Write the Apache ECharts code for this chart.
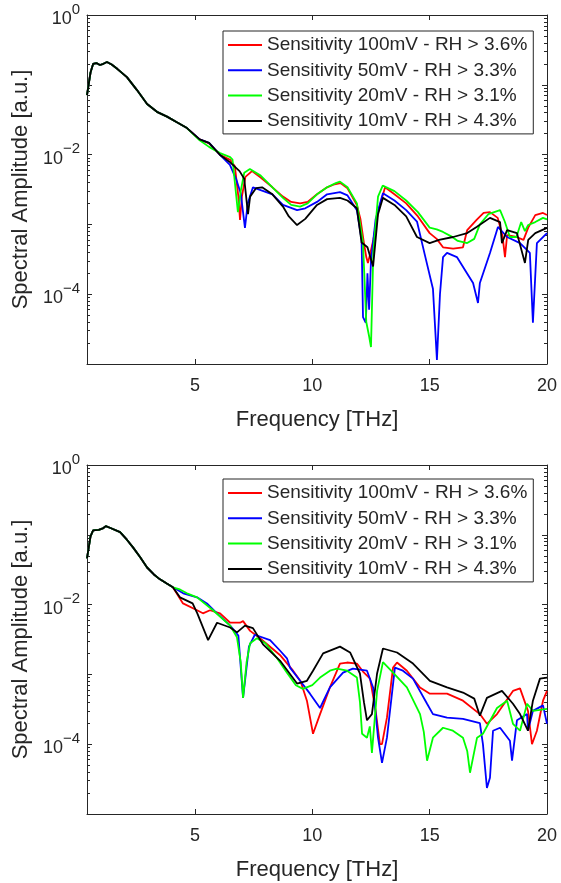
<!DOCTYPE html>
<html>
<head>
<meta charset="utf-8">
<script src="https://cdn.jsdelivr.net/npm/echarts@6/dist/echarts.min.js"></script>
<style>
html,body{margin:0;padding:0;background:#fff;}
#chart{width:561px;height:883px;}
</style>
</head>
<body>
<div id="chart"></div>
<script>
// ---------- DATA ----------
const seriesNames = ['Sensitivity 100mV - RH > 3.6%', 'Sensitivity 50mV - RH > 3.3%', 'Sensitivity 20mV - RH > 3.1%', 'Sensitivity 10mV - RH > 4.3%'];
const xTickValues = [5, 10, 15, 20];
const yLabelValues = [1e-4, 1e-2, 1];

// top panel: shared low-frequency part [THz, a.u.]
const headTop = [[0.4,0.071],[0.55,0.15],[0.66,0.199],[0.8,0.205],[0.95,0.192],[1.1,0.2],[1.25,0.212],[1.45,0.195],[1.7,0.168],[2.1,0.129],[2.53,0.084],[2.96,0.053],[3.38,0.041],[3.81,0.035],[4.23,0.029],[4.66,0.024]];
const redTop = [[5.2,0.0165],[5.6,0.0145],[6.07,0.0099],[6.5,0.0084],[6.7,0.0068],[6.85,0.0025],[6.92,0.00116],[7.0,0.0025],[7.15,0.0048],[7.43,0.0058],[7.8,0.0047],[8.3,0.0034],[8.75,0.0025],[9.1,0.0021],[9.48,0.002],[9.8,0.0021],[10.2,0.0027],[10.63,0.0034],[10.9,0.0037],[11.2,0.0039],[11.5,0.0033],[11.9,0.0019],[12.05,0.0012],[12.2,0.00054],[12.3,0.00034],[12.37,0.00028],[12.45,0.00036],[12.6,0.0006],[12.8,0.0015],[13.1,0.0034],[13.5,0.0027],[14.0,0.002],[14.5,0.0013],[15.0,0.00075],[15.3,0.00062],[15.57,0.00047],[16.0,0.00045],[16.42,0.00047],[16.6,0.00083],[17.0,0.00116],[17.3,0.00146],[17.57,0.0015],[17.9,0.00124],[18.1,0.0007],[18.21,0.00034],[18.3,0.0007],[18.7,0.00066],[19.0,0.0006],[19.2,0.0009],[19.5,0.00136],[19.83,0.00146],[20,0.00136]];
const blueTop = [[5.2,0.0165],[5.6,0.0147],[6.07,0.0099],[6.49,0.0071],[6.75,0.0045],[6.95,0.0028],[7.13,0.00089],[7.25,0.002],[7.47,0.0034],[7.8,0.0031],[8.3,0.0027],[8.75,0.0019],[9.35,0.0016],[9.7,0.0017],[10.2,0.0021],[10.63,0.0027],[11.18,0.0029],[11.5,0.0026],[11.9,0.0016],[12.1,0.0006],[12.16,0.000047],[12.28,0.000039],[12.35,0.0002],[12.42,0.00006],[12.5,0.0003],[12.7,0.0012],[13.01,0.0028],[13.5,0.0022],[14.0,0.0016],[14.46,0.0011],[14.8,0.00036],[15.14,0.00012],[15.31,0.0000114],[15.44,0.0001],[15.57,0.00034],[15.74,0.00039],[16.16,0.00034],[16.59,0.0002],[16.85,0.000145],[17.06,0.000075],[17.14,0.000145],[17.57,0.00039],[17.91,0.00092],[18.3,0.00066],[18.85,0.00054],[19.27,0.00039],[19.4,0.000039],[19.57,0.00054],[20,0.00075]];
const greenTop = [[5.2,0.016],[5.6,0.0129],[6.07,0.0105],[6.5,0.0092],[6.6,0.0085],[6.7,0.004],[6.83,0.0015],[6.95,0.003],[7.1,0.0055],[7.34,0.0062],[7.8,0.005],[8.3,0.0034],[8.75,0.0024],[9.1,0.0019],[9.48,0.0018],[9.8,0.002],[10.2,0.0027],[10.63,0.0034],[11.0,0.0039],[11.18,0.0041],[11.5,0.0034],[11.9,0.002],[12.16,0.00054],[12.3,0.00004],[12.42,0.000025],[12.5,0.0000175],[12.6,0.0004],[12.8,0.0025],[13.0,0.0036],[13.5,0.003],[14.0,0.0022],[14.5,0.0015],[15.0,0.0009],[15.3,0.00085],[15.57,0.00078],[15.9,0.00068],[16.2,0.00058],[16.6,0.00054],[16.9,0.00062],[17.14,0.001],[17.5,0.0014],[18.0,0.0016],[18.2,0.0011],[18.42,0.00066],[18.7,0.00066],[18.9,0.00108],[19.06,0.0008],[19.2,0.00098],[19.5,0.00108],[19.83,0.00124],[20,0.00118]];
const blackTop = [[5.2,0.0165],[5.6,0.0147],[6.07,0.0099],[6.49,0.0078],[6.9,0.0058],[7.1,0.0045],[7.26,0.0014],[7.35,0.0025],[7.6,0.0033],[7.86,0.0034],[8.3,0.0027],[8.75,0.0018],[9.0,0.0013],[9.35,0.00098],[9.7,0.0012],[10.2,0.0019],[10.63,0.0023],[11.18,0.0024],[11.5,0.0022],[11.9,0.0017],[12.1,0.00055],[12.35,0.00047],[12.59,0.00025],[12.8,0.0014],[13.01,0.0024],[13.5,0.0019],[14.0,0.0013],[14.46,0.00066],[15.0,0.00054],[15.4,0.0006],[16.0,0.00066],[16.6,0.00075],[17.0,0.00092],[17.57,0.00124],[18.0,0.00108],[18.08,0.00054],[18.3,0.00083],[18.72,0.00075],[19.06,0.00028],[19.2,0.0006],[19.5,0.00075],[20,0.00089]];

// bottom panel
const headBottom = [[0.4,0.046],[0.55,0.095],[0.66,0.116],[0.9,0.118],[1.1,0.125],[1.2,0.133],[1.4,0.125],[1.81,0.109],[2.1,0.085],[2.36,0.066],[2.66,0.048],[2.96,0.034],[3.25,0.027],[3.51,0.023],[3.8,0.02],[4.06,0.0177]];
const redBottom = [[4.49,0.0104],[5.09,0.0083],[5.34,0.0075],[5.64,0.0083],[6.07,0.0075],[6.5,0.0055],[6.92,0.0055],[7.05,0.0058],[7.35,0.0042],[7.77,0.0033],[8.62,0.0019],[9.18,0.00113],[9.5,0.0008],[9.77,0.00042],[10.03,0.000141],[10.33,0.00027],[10.75,0.00065],[11.18,0.00143],[11.48,0.00148],[11.9,0.00143],[12.16,0.0011],[12.46,0.00087],[12.7,0.0003],[12.88,0.0001],[12.97,0.0001],[13.18,0.00024],[13.44,0.00125],[13.61,0.00148],[14.03,0.00113],[14.59,0.00065],[15.01,0.00053],[15.74,0.00053],[16.42,0.00042],[17.14,0.00027],[17.44,0.000196],[17.87,0.00027],[18.55,0.00058],[18.85,0.00063],[19.19,0.0003],[19.36,0.0001],[19.57,0.000156],[19.83,0.00042],[20,0.00058]];
const blueBottom = [[4.5,0.0145],[5.09,0.0127],[5.51,0.0104],[5.94,0.0075],[6.5,0.005],[6.85,0.0036],[7.05,0.00046],[7.3,0.0025],[7.55,0.0037],[8.2,0.0031],[8.62,0.0022],[8.92,0.0017],[9.05,0.00125],[9.48,0.00081],[9.9,0.00053],[10.33,0.00033],[10.75,0.00065],[11.31,0.00106],[11.73,0.00121],[12.33,0.00113],[12.59,0.00065],[12.8,0.000124],[12.97,0.000054],[13.18,0.000124],[13.52,0.00125],[13.86,0.00113],[14.29,0.00087],[14.89,0.00038],[15.14,0.00027],[15.74,0.00024],[16.42,0.00023],[17.14,0.0002],[17.27,0.0001],[17.44,0.0000236],[17.57,0.000033],[17.7,0.000156],[18.0,0.000172],[18.42,0.000112],[18.51,0.000058],[18.72,0.00022],[19.15,0.00027],[19.19,0.000156],[19.4,0.0003],[19.83,0.00036],[20,0.000196]];
const greenBottom = [[4.36,0.0165],[4.66,0.0145],[5.09,0.0127],[5.77,0.0083],[6.5,0.005],[6.79,0.0034],[6.95,0.0015],[7.05,0.00046],[7.2,0.0015],[7.35,0.0028],[7.64,0.0033],[8.0,0.0028],[8.5,0.0017],[8.92,0.00106],[9.3,0.0007],[9.6,0.00062],[10.0,0.0007],[10.33,0.0009],[10.75,0.00113],[11.05,0.00121],[11.48,0.00113],[11.9,0.0009],[12.03,0.0004],[12.12,0.000141],[12.33,0.000124],[12.45,0.00018],[12.54,0.000075],[12.76,0.00058],[13.01,0.0015],[13.44,0.00106],[14.03,0.00065],[14.59,0.00027],[14.75,0.00015],[14.89,0.000058],[15.14,0.000124],[15.57,0.000172],[15.99,0.000156],[16.42,0.000124],[16.6,0.00008],[16.72,0.000039],[17.02,0.000124],[17.27,0.000141],[17.87,0.00033],[18.3,0.00042],[18.55,0.000196],[18.85,0.000156],[19.15,0.00038],[19.4,0.0003],[20,0.00032]];
const blackBottom = [[4.36,0.0127],[4.9,0.0104],[5.1,0.0075],[5.56,0.0031],[5.94,0.0055],[6.5,0.0047],[6.79,0.004],[7.13,0.005],[7.47,0.0046],[7.9,0.0027],[8.62,0.00158],[9.35,0.00074],[9.77,0.00081],[10.03,0.00113],[10.46,0.002],[11.18,0.0025],[11.61,0.00206],[12.03,0.00103],[12.2,0.0004],[12.33,0.00022],[12.54,0.00027],[12.76,0.00103],[13.01,0.00235],[13.61,0.00206],[14.29,0.00143],[15.01,0.00081],[15.74,0.00065],[16.42,0.00055],[16.9,0.00045],[17.14,0.000256],[17.44,0.00046],[18.08,0.00058],[18.55,0.00038],[18.85,0.00027],[19.19,0.000156],[19.4,0.00042],[19.7,0.00087],[20,0.0009]];

const colors = ['#ff0000', '#0000ff', '#00ff00', '#000000'];

// ---------- BUILD ----------
const AX = '#262626';
const FONT = '"Liberation Sans", Arial, Helvetica, sans-serif';
const decadeTicks = [1e-5, 1e-4, 1e-3, 1e-2, 1e-1, 1];
const minorTicks = [];
for (let k = -5; k < 0; k++) for (let m = 2; m <= 9; m++) minorTicks.push(+(m * Math.pow(10, k)).toPrecision(3));

const grids = [
  {left: 87, top: 15, width: 460, height: 349},
  {left: 87, top: 465, width: 460, height: 349}
];

const xAxes = [], yAxes = [], series = [], legends = [];
const legendTops = [31, 479];
const panels = [
  {head: headTop, sets: [redTop, blueTop, greenTop, blackTop]},
  {head: headBottom, sets: [redBottom, blueBottom, greenBottom, blackBottom]}
];

panels.forEach((p, gi) => {
  const xb = xAxes.length;
  xAxes.push({
    type: 'value', gridIndex: gi, position: 'bottom', min: 0.4, max: 20,
    axisLine: {show: true, lineStyle: {color: AX, width: 1}},
    axisTick: {show: true, inside: true, length: 5, customValues: [5, 10, 15], lineStyle: {color: AX}},
    axisLabel: {show: true, customValues: xTickValues, color: AX, fontSize: 18, fontFamily: FONT, margin: 13},
    splitLine: {show: false},
    name: 'Frequency [THz]', nameLocation: 'middle', nameGap: 45,
    nameTextStyle: {color: AX, fontSize: 22, fontFamily: FONT}
  });
  xAxes.push({
    type: 'value', gridIndex: gi, position: 'top', min: 0.4, max: 20,
    axisLine: {show: true, lineStyle: {color: AX, width: 1}},
    axisTick: {show: true, inside: true, length: 5, customValues: [5, 10, 15], lineStyle: {color: AX}},
    axisLabel: {show: false}, splitLine: {show: false}
  });
  const yb = yAxes.length;
  const yBase = {type: 'log', logBase: 10, gridIndex: gi, min: 1e-5, max: 1, splitLine: {show: false}};
  yAxes.push(Object.assign({}, yBase, {
    position: 'left',
    axisLine: {show: true, lineStyle: {color: AX, width: 1}},
    axisTick: {show: true, inside: true, length: 5, customValues: decadeTicks, lineStyle: {color: AX}},
    axisLabel: {
      show: true, customValues: yLabelValues, margin: 7,
      formatter: v => {
        const e = Math.round(Math.log10(v));
        return '{b|10}{s|' + (e < 0 ? '\u2212' + (-e) : String(e)) + '}';
      },
      rich: {
        b: {fontSize: 18, fontFamily: FONT, color: AX, lineHeight: 26, verticalAlign: 'bottom'},
        s: {fontSize: 15, fontFamily: FONT, color: AX, lineHeight: 26, verticalAlign: 'top'}
      }
    },
    name: 'Spectral Amplitude [a.u.]', nameLocation: 'middle', nameGap: 52, nameRotate: 90,
    nameTextStyle: {color: AX, fontSize: 22, fontFamily: FONT}
  }));
  yAxes.push(Object.assign({}, yBase, {
    position: 'left', axisLine: {show: false},
    axisTick: {show: true, inside: true, length: 3, customValues: minorTicks, lineStyle: {color: AX}},
    axisLabel: {show: false}
  }));
  yAxes.push(Object.assign({}, yBase, {
    position: 'right',
    axisLine: {show: true, lineStyle: {color: AX, width: 1}},
    axisTick: {show: true, inside: true, length: 5, customValues: decadeTicks, lineStyle: {color: AX}},
    axisLabel: {show: false}
  }));
  yAxes.push(Object.assign({}, yBase, {
    position: 'right', axisLine: {show: false},
    axisTick: {show: true, inside: true, length: 3, customValues: minorTicks, lineStyle: {color: AX}},
    axisLabel: {show: false}
  }));

  p.sets.forEach((set, si) => {
    series.push({
      type: 'line', name: seriesNames[si], xAxisIndex: xb, yAxisIndex: yb,
      data: p.head.concat(set), symbol: 'none', showSymbol: false, smooth: false,
      lineStyle: {color: colors[si], width: 1.8}, itemStyle: {color: colors[si]},
      animation: false, z: 2 + si, silent: true
    });
  });

  legends.push({
    orient: 'vertical', left: 223, top: legendTops[gi],
    data: seriesNames, icon: 'rect', itemWidth: 34, itemHeight: 2, itemGap: 5.3, itemTextGap: 5,
    padding: [4, 6, 3, 5], backgroundColor: '#fff', borderColor: AX, borderWidth: 1,
    borderRadius: 0, selectedMode: false,
    textStyle: {color: AX, fontSize: 19, fontFamily: FONT, lineHeight: 20}
  });
});

const chart = echarts.init(document.getElementById('chart'), null, {renderer: 'canvas'});
chart.setOption({
  backgroundColor: '#fff',
  animation: false,
  grid: grids,
  xAxis: xAxes,
  yAxis: yAxes,
  legend: legends,
  series: series
});
</script>
</body>
</html>
